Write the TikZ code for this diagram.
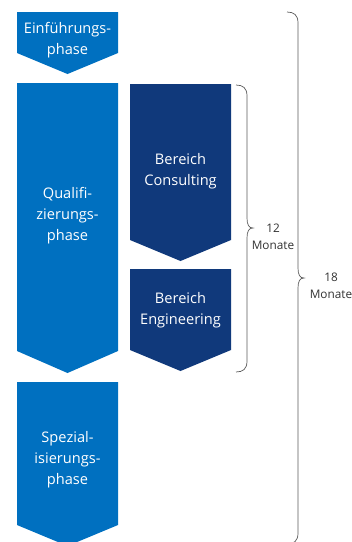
\documentclass[tikz,border=0pt]{standalone}
\usepackage{fontspec}
\setmainfont{Open Sans}
\definecolor{lblue}{RGB}{0,112,192}
\definecolor{dblue}{RGB}{16,57,123}
\definecolor{bracegray}{RGB}{90,90,90}
\definecolor{labgray}{RGB}{50,50,50}
\begin{document}
\begin{tikzpicture}[x=1pt,y=-1pt,
  boxtext/.style={text=white,align=center,font=\fontsize{14.6}{21}\selectfont,inner sep=0pt},
  bracelab/.style={text=labgray,align=center,font=\fontsize{11.8}{17}\selectfont,inner sep=0pt},
  bracepath/.style={draw=bracegray,line width=0.7pt}]
\useasboundingbox (0,0) rectangle (352,542);
\begin{scope}
\clip (0,0) rectangle (352,542);
% chevrons
\fill[lblue] (17,12) -- (118,12) -- (118,53) -- (67.5,74) -- (17,53) -- cycle;
\fill[lblue] (17,83) -- (118,83) -- (118,351) -- (67.5,373) -- (17,351) -- cycle;
\fill[lblue] (17,382) -- (118,382) -- (118,525) -- (67.5,546) -- (17,525) -- cycle;
\fill[dblue] (130,84) -- (231,84) -- (231,240) -- (180.5,261) -- (130,240) -- cycle;
\fill[dblue] (130,269) -- (231,269) -- (231,350) -- (180.5,371) -- (130,350) -- cycle;
% braces
\draw[bracepath] (236,85) .. controls (243,85) and (247,88) .. (247,96)
  -- (247,218) .. controls (247,225) and (249,228) .. (253,228)
  .. controls (249,228) and (247,231) .. (247,238)
  -- (247,361) .. controls (247,369) and (243,372) .. (236,372);
\draw[bracepath] (287,12) .. controls (294,12) and (298,15) .. (298,23)
  -- (298,268) .. controls (298,275) and (300,278) .. (304,278)
  .. controls (300,278) and (298,281) .. (298,288)
  -- (298,533) .. controls (298,541) and (294,544) .. (287,544);
\end{scope}
% texts
\node[boxtext] (einf) at (67.5,40) {Einführungs-\\phase};
\node[boxtext] (quali) at (67.5,216) {Qualifi-\\zierungs-\\phase};
\node[boxtext] (spez) at (67.5,460) {Spezial-\\isierungs-\\phase};
\node[boxtext] (cons) at (180.5,171) {Bereich\\Consulting};
\node[boxtext] (eng) at (180.5,310) {Bereich\\Engineering};
\node[bracelab] (m12) at (273,237) {12\\Monate};
\node[bracelab] (m18) at (331,286) {18\\Monate};
\end{tikzpicture}
\end{document}
